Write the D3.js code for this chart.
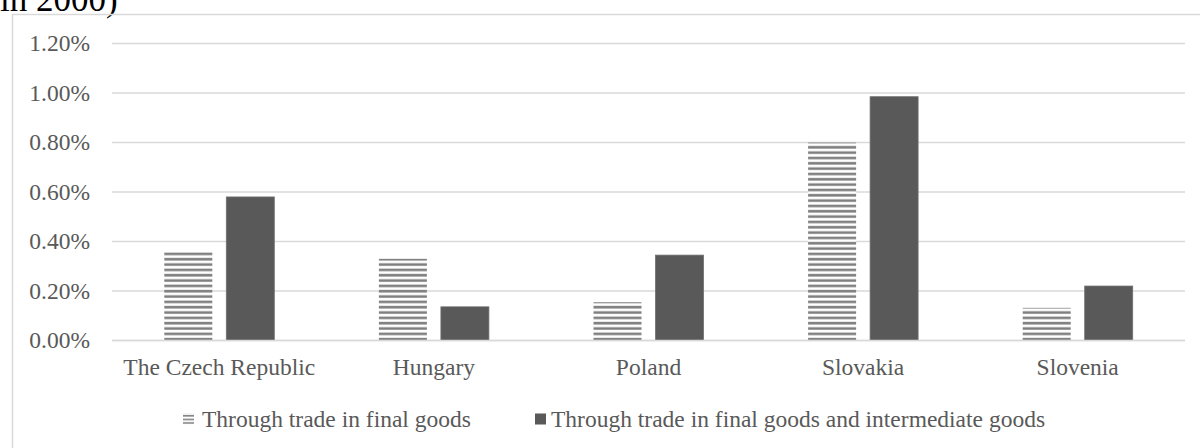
<!DOCTYPE html>
<html>
<head>
<meta charset="utf-8">
<script src="https://cdn.jsdelivr.net/npm/d3@7/dist/d3.min.js"></script>
<style>
  html, body { margin: 0; padding: 0; background: #fff; }
  svg { display: block; }
</style>
</head>
<body>
<svg id="chart" width="1200" height="448"></svg>
<script>
const categories = ["The Czech Republic", "Hungary", "Poland", "Slovakia", "Slovenia"];
const seriesNames = ["Through trade in final goods", "Through trade in final goods and intermediate goods"];
const finalGoods = [0.0036, 0.0033, 0.00155, 0.0080, 0.00132];
const finalAndIntermediate = [0.0058, 0.00136, 0.00345, 0.00985, 0.0022];
const yTicks = [0, 0.002, 0.004, 0.006, 0.008, 0.010, 0.012];
const titleText = "in 2000)";

(function () {
const seriesValues = [finalGoods, finalAndIntermediate];
const svg = d3.select("#chart");
const font = "'Liberation Serif', 'Times New Roman', serif";
const textColor = "#595959";
const gridColor = "#d9d9d9";
const fs = 23.5;

// defs: hatch pattern
const defs = svg.append("defs");
const pat = defs.append("pattern")
  .attr("id", "hatch")
  .attr("patternUnits", "userSpaceOnUse")
  .attr("width", 8).attr("height", 5.33)
  .attr("y", 0.5);
pat.append("rect").attr("width", 8).attr("height", 5.33).attr("fill", "#ffffff");
pat.append("rect").attr("y", 1.6).attr("width", 8).attr("height", 2.6).attr("fill", "#808080");

const patL = defs.append("pattern")
  .attr("id", "hatchLegend")
  .attr("patternUnits", "userSpaceOnUse")
  .attr("width", 8).attr("height", 3.6)
  .attr("y", 0.2);
patL.append("rect").attr("width", 8).attr("height", 3.6).attr("fill", "#ffffff");
patL.append("rect").attr("y", 0.8).attr("width", 8).attr("height", 1.6).attr("fill", "#808080");

// title fragment (cut off at top edge as in the reference)
svg.append("text")
  .attr("x", 0).attr("y", 11)
  .attr("font-family", font).attr("font-size", 35).attr("fill", "#000")
  .text(titleText);

// chart border
svg.append("rect")
  .attr("x", 12.5).attr("y", 14.5)
  .attr("width", 1200).attr("height", 500)
  .attr("fill", "none").attr("stroke", gridColor).attr("stroke-width", 1.5);

const plotLeft = 112, plotRight = 1185, plotTop = 43.5, plotBottom = 340.5;

const x0 = d3.scaleBand().domain(categories).range([plotLeft, plotRight]).padding(0);
const x1 = d3.scaleBand().domain(seriesNames).range([0, x0.bandwidth()])
  .paddingInner(14 / 62).paddingOuter(0.8435);
const y = d3.scaleLinear().domain([0, 0.012]).range([plotBottom, plotTop]);

// gridlines
svg.append("g").selectAll("line").data(yTicks).join("line")
  .attr("x1", plotLeft).attr("x2", plotRight)
  .attr("y1", d => y(d)).attr("y2", d => y(d))
  .attr("stroke", gridColor).attr("stroke-width", 1.5);

// y axis labels
svg.append("g").selectAll("text").data(yTicks).join("text")
  .attr("x", 90).attr("y", d => y(d) + 7.5)
  .attr("text-anchor", "end")
  .attr("font-family", font).attr("font-size", fs).attr("fill", textColor)
  .text(d => d3.format(".2%")(d));

// bars
const fills = ["url(#hatch)", "#595959"];
const groups = svg.append("g").selectAll("g").data(categories).join("g")
  .attr("transform", c => `translate(${x0(c)},0)`);
groups.selectAll("rect").data((c, i) => seriesNames.map((s, k) => ({ s, k, v: seriesValues[k][i] })))
  .join("rect")
  .attr("x", d => x1(d.s))
  .attr("width", x1.bandwidth())
  .attr("y", d => y(d.v))
  .attr("height", d => plotBottom - y(d.v))
  .attr("fill", d => fills[d.k])
  .attr("stroke", d => d.k === 1 ? "#6f6f6f" : "none")
  .attr("stroke-width", 0.8);

// x axis line
svg.append("line")
  .attr("x1", plotLeft).attr("x2", plotRight).attr("y1", plotBottom).attr("y2", plotBottom)
  .attr("stroke", gridColor).attr("stroke-width", 1.5);

// category labels
svg.append("g").selectAll("text").data(categories).join("text")
  .attr("x", c => x0(c) + x0.bandwidth() / 2)
  .attr("y", 375)
  .attr("text-anchor", "middle")
  .attr("font-family", font).attr("font-size", fs).attr("fill", textColor)
  .text(c => c);

// legend
const legendItems = [
  { name: seriesNames[0], fill: "url(#hatchLegend)", sx: 183, tx: 202 },
  { name: seriesNames[1], fill: "#595959", sx: 535, tx: 551 }
];
const lg = svg.append("g").selectAll("g").data(legendItems).join("g");
lg.append("rect")
  .attr("x", d => d.sx).attr("y", 413.5)
  .attr("width", 11).attr("height", 11)
  .attr("fill", d => d.fill);
lg.append("text")
  .attr("x", d => d.tx).attr("y", 427)
  .attr("font-family", font).attr("font-size", fs).attr("fill", textColor)
  .text(d => d.name);
})();
</script>
</body>
</html>
